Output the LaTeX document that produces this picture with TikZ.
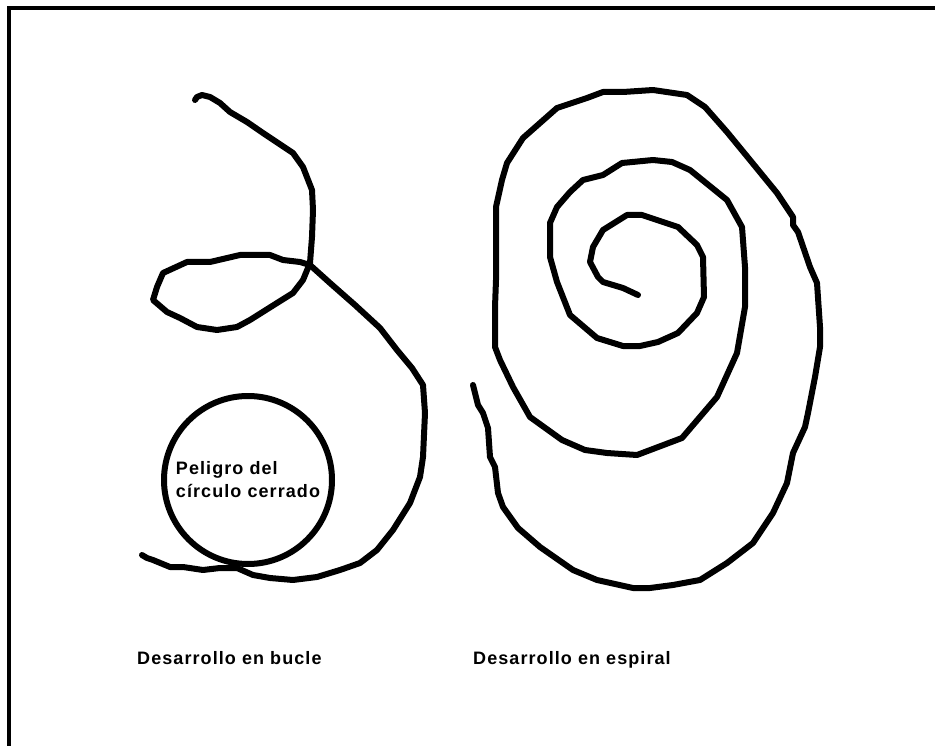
\documentclass[tikz,border=0pt]{standalone}
\usepackage{fontspec}
\usepackage{tikz}
\newfontfamily\labelfont[LetterSpace=6]{Liberation Sans}
\def\penwidth{6}
\def\framewidth{3.5}
\definecolor{inkblack}{rgb}{0,0,0}
\tikzset{
  pen/.style={line width=\penwidth, color=inkblack, line join=round, line cap=round},
  caption/.style={font=\labelfont\bfseries\fontsize{18}{23}\selectfont, inner sep=0pt, anchor=base west},
}

\begin{document}
\begin{tikzpicture}[x = 1pt, y = -1pt, scale = 1]
            
            \useasboundingbox (0,0) rectangle (935,746);
            
            \coordinate (corner) at (9,8);
            \coordinate (topend) at (935,8);
            \coordinate (leftend) at (9,746);
            \draw [line width=\framewidth, color=inkblack] (leftend) -- (corner) -- (topend);
            
            % bucle
            \draw [pen] plot coordinates {(142,555) (147,558) (153,560) (170,567) (183,567) (203,570) (220,568) (237,568) (253,575) (270,578) (293,580) (317,577) (340,570) (360,563) (377,550) (393,530) (410,503) (420,477) (423,457) (425,413) (423,385) (412,368) (397,350) (380,328) (355,305) (330,283) (310,265) (300,262) (283,260) (270,255) (240,255) (210,262) (187,262) (163,273) (157,287) (153,300) (167,312) (180,318) (197,327) (217,330) (237,327) (250,320) (277,303) (293,293) (303,280) (310,263) (312,237) (313,210) (312,190) (303,167) (293,153) (263,133) (247,122) (230,112) (220,103) (210,97) (202,95) (197,97) (195,100)};
            
            \node [draw, pen, circle, minimum size=168, inner sep=0pt, align=left,
                   font=\labelfont\bfseries\fontsize{18}{23}\selectfont] (peligro) at (248,480)
                  {\raisebox{-3pt}{Peligro del}\\\raisebox{-3pt}{c\'irculo cerrado}};
            
            % espiral
            \draw [pen] plot coordinates {(638,295) (623,288) (603,282) (598,277) (590,262) (593,247) (603,230) (627,215) (642,215) (678,227) (697,245) (703,257) (704,297) (697,313) (678,333) (658,342) (640,346) (623,346) (597,338) (570,315) (557,282) (550,257) (550,223) (557,207) (570,192) (583,180) (603,175) (622,163) (653,160) (672,162) (690,170) (727,200) (742,227) (745,267) (745,307) (737,353) (717,397) (682,438) (637,455) (607,453) (585,450) (562,440) (530,417) (513,387) (500,360) (495,347) (495,307) (496,280) (496,207) (502,180) (507,163) (523,138) (557,108) (587,98) (603,92) (623,92) (653,90) (687,95) (705,107) (727,132) (750,160) (777,193) (793,217) (793,225) (798,232) (810,267) (817,283) (820,327) (820,347) (815,377) (808,413) (805,427) (793,453) (787,483) (773,513) (753,543) (727,563) (700,580) (673,585) (650,588) (633,588) (597,580) (573,570) (540,547) (518,528) (503,507) (498,493) (495,467) (490,457) (488,428) (483,413) (478,405) (473,385)};
            
            \node [caption] (bucle) at (137,664) {Desarrollo en bucle};
            \node [caption] (espiral) at (473,664) {Desarrollo en espiral};
            
        \end{tikzpicture}
\end{document}
